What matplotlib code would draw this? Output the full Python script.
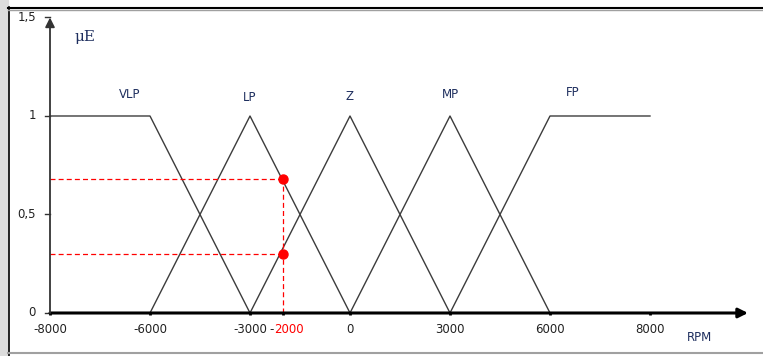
import numpy as np
import matplotlib
matplotlib.use("Agg")
import matplotlib.pyplot as plt
from matplotlib.patches import Rectangle
from matplotlib.lines import Line2D

# membership functions (RPM breakpoints, degree)
vlp_x = [-8000, -6000, -3000]
vlp_y = [1, 1, 0]
lp_x = [-6000, -3000, 0]
lp_y = [0, 1, 0]
z_x = [-3000, 0, 3000]
z_y = [0, 1, 0]
mp_x = [0, 3000, 6000]
mp_y = [0, 1, 0]
fp_x = [3000, 6000, 8000]
fp_y = [0, 1, 1]
set_names = ["VLP", "LP", "Z", "MP", "FP"]
name_x = [-6400, -3000, 0, 3000, 6460]
name_y = [1.107, 1.096, 1.10, 1.11, 1.12]

x_ticks = [-8000, -6000, -3000, -2000, 0, 3000, 6000, 8000]
y_ticks = [0, 0.5, 1, 1.5]
y_tick_labels = ["0", "0,5", "1", "1,5"]

rpm_input = -2000
mu_values = [0.68, 0.30]

TXT = "#1f2f5f"
LINE = "#3c3c3c"


def fwd(x):
    x = np.asarray(x, dtype=float)
    a = np.abs(x)
    return np.where(a <= 6000, x, np.sign(x) * (6000 + 1.5 * (a - 6000)))


def inv(t):
    t = np.asarray(t, dtype=float)
    a = np.abs(t)
    return np.where(a <= 6000, t, np.sign(t) * (6000 + (a - 6000) / 1.5))


fig = plt.figure(figsize=(7.63, 3.56), dpi=100)
ax = fig.add_axes([0, 0, 1, 1])
ax.set_xscale("function", functions=(fwd, inv))
ax.set_xlim(-9000, 10260)
ax.set_ylim(-0.2183, 1.5888)
ax.axis("off")

# frame around the chart
fig.patches.append(Rectangle((0, 0), 8 / 763, 1, transform=fig.transFigure,
                             color="#dcdcdc", zorder=0))
fig.lines.append(Line2D([8.5 / 763, 8.5 / 763], [0, 1 - 7 / 356],
                        transform=fig.transFigure, color="black", lw=1.2))
fig.lines.append(Line2D([8 / 763, 1], [1 - 7.5 / 356, 1 - 7.5 / 356],
                        transform=fig.transFigure, color="black", lw=1.5))
fig.lines.append(Line2D([8 / 763, 1], [1 - 10 / 356, 1 - 10 / 356],
                        transform=fig.transFigure, color="#a0a0a0", lw=1.0))
fig.lines.append(Line2D([8 / 763, 1], [3.5 / 356, 3.5 / 356],
                        transform=fig.transFigure, color="#a0a0a0", lw=1.5))

# axes with arrows
ax.annotate("", xy=(9960, 0), xytext=(-8000, 0),
            arrowprops=dict(arrowstyle="-|>", color="black", lw=2.2,
                            mutation_scale=14, shrinkA=0, shrinkB=0))
ax.annotate("", xy=(-8000, 1.5), xytext=(-8000, 0),
            arrowprops=dict(arrowstyle="-|>", color="#333333", lw=1.3,
                            mutation_scale=14, shrinkA=0, shrinkB=0))

for xt in x_ticks:
    ax.plot([xt, xt], [0, -0.012], color="black", lw=2, solid_capstyle="butt")
    if xt == rpm_input:
        # label pushed right so it does not run into -3000
        ax.text(xt - 300, -0.086, "-", ha="right", va="center", fontsize=8.5,
                color="#222222")
        ax.text(xt - 270, -0.086, str(abs(xt)), ha="left", va="center",
                fontsize=8.5, color="red")
    else:
        ax.text(xt, -0.086, str(xt), ha="center", va="center", fontsize=8.5,
                color="#222222")

for yt, lab in zip(y_ticks, y_tick_labels):
    ax.plot([-8100, -8000], [yt, yt], color="#333333", lw=1)
    ax.text(-8280, yt, lab, ha="right", va="center", fontsize=8.5, color="#222222")

# membership functions
for xs, ys in [(vlp_x, vlp_y), (lp_x, lp_y), (z_x, z_y), (mp_x, mp_y), (fp_x, fp_y)]:
    ax.plot(xs, ys, color=LINE, lw=1)

for name, nx, ny in zip(set_names, name_x, name_y):
    ax.text(nx, ny, name, ha="center", va="center", fontsize=8.5, color=TXT)

# fuzzification of -2000 RPM
for mu in mu_values:
    ax.plot([-8000, rpm_input], [mu, mu], color="red", lw=0.9, ls=(0, (4, 2.5)))
ax.plot([rpm_input, rpm_input], [0, max(mu_values)], color="red", lw=0.9,
        ls=(0, (4, 2.5)))
ax.plot([rpm_input] * len(mu_values), mu_values, "o", color="red", ms=6.5, zorder=5)

ax.text(-7300, 1.40, "μE", ha="center", va="center", fontsize=11,
        family="DejaVu Serif", color=TXT)
ax.text(9000, -0.122, "RPM", ha="center", va="center", fontsize=8.5, color=TXT)

fig.savefig("out.png", dpi=100)
